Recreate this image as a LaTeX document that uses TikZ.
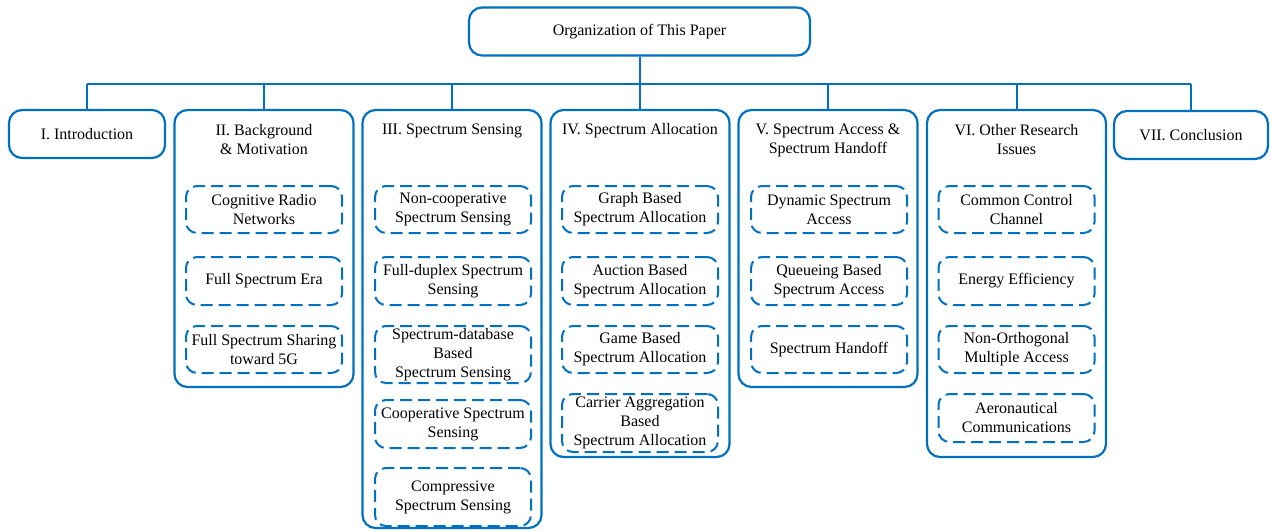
\documentclass[tikz,border=0pt]{standalone}
\usepackage{fontspec}
\setmainfont{Liberation Serif}
\definecolor{orgblue}{RGB}{0,112,192}
\begin{document}
\begin{tikzpicture}[x=1pt,y=-1pt,
  every node/.style={font=\fontsize{16}{19}\selectfont, text=black, align=center, inner sep=0pt},
  solidbox/.style={draw=orgblue, line width=2.2pt, rounded corners=13pt},
  dashbox/.style={draw=orgblue, line width=2pt, rounded corners=11pt,
                  dash pattern=on 12pt off 6pt, minimum width=156pt},
  link/.style={draw=orgblue, line width=2pt}]
\useasboundingbox (0,0) rectangle (1271,530);

% root and section boxes
\node[solidbox, minimum width=341pt, minimum height=48pt] (top) at (639.5,31.5) {Organization of This Paper};
\node[solidbox, minimum width=156pt, minimum height=48pt] (intro) at (87,134) {I. Introduction};
\node[solidbox, minimum width=179pt, minimum height=277pt] (s2) at (264,248.5) {};
\node[solidbox, minimum width=179pt, minimum height=418pt] (s3) at (452,319) {};
\node[solidbox, minimum width=179pt, minimum height=347pt] (s4) at (640,283.5) {};
\node[solidbox, minimum width=179pt, minimum height=277pt] (s5) at (828,248.5) {};
\node[solidbox, minimum width=179pt, minimum height=347pt] (s6) at (1016.5,283.5) {};
\node[solidbox, minimum width=154pt, minimum height=48pt] (concl) at (1191,135) {VII. Conclusion};

% section titles
\node (t2) at (264,140) {II. Background\\ \& Motivation};
\node (t3) at (452,130.5) {III. Spectrum Sensing};
\node (t4) at (640,130.5) {IV. Spectrum Allocation};
\node (t5) at (828,140) {V. Spectrum Access \&\\ Spectrum Handoff};
\node (t6) at (1016.5,140) {VI. Other Research\\ Issues};

% II. Background & Motivation
\node[dashbox, minimum height=47pt] (b1) at (264,209.5) {Cognitive Radio\\ Networks};
\node[dashbox, minimum height=48pt] (b2) at (264,281) {Full Spectrum Era};
\node[dashbox, minimum height=47pt] (b3) at (264,349.5) {Full Spectrum Sharing\\ toward 5G};

% III. Spectrum Sensing
\node[dashbox, minimum height=47pt] (c1) at (453,209.5) {Non-cooperative\\ Spectrum Sensing};
\node[dashbox, minimum height=48pt] (c2) at (453,281) {Full-duplex Spectrum\\ Sensing};
\node[dashbox, minimum height=57pt] (c3) at (453,354.5) {Spectrum-database\\ Based\\ Spectrum Sensing};
\node[dashbox, minimum height=48pt] (c4) at (453,424) {Cooperative Spectrum\\ Sensing};
\node[dashbox, minimum height=58pt] (c5) at (453,497) {Compressive\\ Spectrum Sensing};

% IV. Spectrum Allocation
\node[dashbox, minimum height=47pt] (d1) at (640,209.5) {Graph Based\\ Spectrum Allocation};
\node[dashbox, minimum height=48pt] (d2) at (640,281) {Auction Based\\ Spectrum Allocation};
\node[dashbox, minimum height=47pt] (d3) at (640,349.5) {Game Based\\ Spectrum Allocation};
\node[dashbox, minimum height=58pt] (d4) at (640,423) {Carrier Aggregation\\ Based\\ Spectrum Allocation};

% V. Spectrum Access & Spectrum Handoff
\node[dashbox, minimum height=47pt] (e1) at (829,209.5) {Dynamic Spectrum\\ Access};
\node[dashbox, minimum height=48pt] (e2) at (829,281) {Queueing Based\\ Spectrum Access};
\node[dashbox, minimum height=47pt] (e3) at (829,349.5) {Spectrum Handoff};

% VI. Other Research Issues
\node[dashbox, minimum height=47pt] (f1) at (1016.5,209.5) {Common Control\\ Channel};
\node[dashbox, minimum height=48pt] (f2) at (1016.5,281) {Energy Efficiency};
\node[dashbox, minimum height=47pt] (f3) at (1016.5,349.5) {Non-Orthogonal\\ Multiple Access};
\node[dashbox, minimum height=48pt] (f4) at (1016.5,418) {Aeronautical\\ Communications};

% tree connectors
\coordinate (bus) at (0,84);
\draw[link] (top.south) -- (top.south |- bus);
\draw[link] (intro.north |- bus) -- (concl.north |- bus);
\foreach \n in {intro,s2,s3,s4,s5,s6,concl}
  \draw[link] (\n.north |- bus) -- (\n.north);
\end{tikzpicture}
\end{document}
